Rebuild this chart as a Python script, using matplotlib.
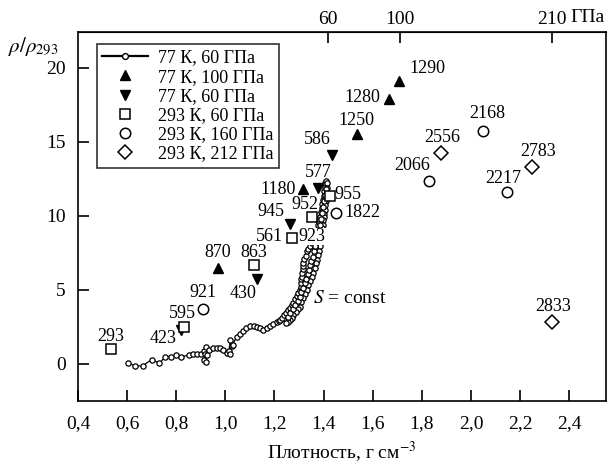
import matplotlib
matplotlib.use("Agg")
import matplotlib.pyplot as plt
from matplotlib.lines import Line2D

plt.rcParams['font.family'] = ['Liberation Serif', 'DejaVu Serif']
plt.rcParams['mathtext.fontset'] = 'stix'

# ---- data ----
# 77 K, 60 GPa continuous curve (density, rho/rho293), read along the band
curve_pts = [
    # lower part
    (0.602, 0.09), (0.632, -0.13), (0.663, -0.13), (0.70, 0.30), (0.731, 0.05), (0.754, 0.45),
    (0.777, 0.50), (0.80, 0.60), (0.82, 0.47), (0.85, 0.60), (0.87, 0.65), (0.883, 0.68),
    (0.90, 0.70), (0.915, 0.90), (0.921, 1.17), (0.918, 0.70), (0.915, 0.30), (0.921, 0.16),
    (0.925, 0.60), (0.935, 0.95), (0.95, 1.07), (0.965, 1.05), (0.978, 1.05), (0.99, 0.95),
    (1.005, 0.72), (1.015, 0.90), (1.02, 1.60), (1.025, 1.20), (1.02, 0.70), (1.03, 1.30),
    (1.046, 1.85), (1.06, 2.00), (1.073, 2.20), (1.085, 2.40), (1.10, 2.57), (1.115, 2.55),
    (1.128, 2.50), (1.14, 2.40), (1.155, 2.30), (1.17, 2.45), (1.182, 2.57), (1.195, 2.70),
    # left strand up
    (1.21, 2.86), (1.217, 2.92), (1.223, 2.97), (1.232, 3.12), (1.24, 3.28), (1.248, 3.45),
    (1.256, 3.62), (1.263, 3.80), (1.27, 3.97), (1.277, 4.12), (1.284, 4.35), (1.29, 4.58),
    (1.297, 4.80), (1.304, 5.00), (1.306, 5.20), (1.308, 5.45), (1.31, 5.70), (1.311, 5.90),
    (1.313, 6.15), (1.315, 6.40), (1.317, 6.62), (1.318, 6.82), (1.322, 7.05), (1.327, 7.30),
    (1.332, 7.59), (1.338, 7.78), (1.345, 7.98), (1.352, 8.18), (1.358, 8.45), (1.363, 8.72),
    (1.368, 8.90), (1.372, 9.05), (1.376, 9.35), (1.38, 9.60), (1.383, 9.80), (1.386, 9.95),
    (1.389, 10.25), (1.392, 10.55), (1.395, 10.80), (1.399, 11.08), (1.401, 11.35),
    (1.403, 11.65), (1.405, 11.95), (1.406, 12.23), (1.41, 12.35), (1.413, 12.2),
    # right strand down
    (1.414, 11.9), (1.412, 11.6), (1.41, 11.3), (1.408, 11.0), (1.406, 10.7), (1.404, 10.4),
    (1.402, 10.15), (1.40, 9.95), (1.398, 9.70), (1.396, 9.40), (1.394, 9.15), (1.392, 8.85),
    (1.39, 8.55), (1.388, 8.25), (1.386, 7.93), (1.382, 7.65), (1.378, 7.35), (1.372, 7.03),
    (1.368, 6.80), (1.364, 6.50), (1.358, 6.15), (1.352, 5.90), (1.345, 5.60), (1.338, 5.30),
    (1.333, 5.00), (1.326, 4.75), (1.318, 4.45), (1.31, 4.15), (1.304, 3.87), (1.295, 3.70),
    (1.286, 3.50), (1.277, 3.30), (1.27, 3.12), (1.264, 2.97), (1.255, 2.85), (1.245, 2.75),
    # middle strand up
    (1.255, 3.20), (1.265, 3.45), (1.275, 3.70), (1.285, 3.95), (1.295, 4.25), (1.303, 4.55),
    (1.31, 4.85), (1.318, 5.15), (1.325, 5.45), (1.33, 5.75), (1.335, 6.05), (1.34, 6.35),
    (1.345, 6.65), (1.35, 6.95), (1.355, 7.25), (1.36, 7.60), (1.365, 7.95), (1.37, 8.30),
    (1.375, 8.65), (1.38, 9.00), (1.385, 9.40), (1.39, 9.80), (1.394, 10.2), (1.398, 10.6),
    (1.402, 11.0), (1.405, 11.4), (1.408, 11.8),
]
curve_x = [p[0] for p in curve_pts]
curve_y = [p[1] for p in curve_pts]

up77_x = [0.97, 1.315, 1.535, 1.667, 1.708]
up77_y = [6.5, 11.8, 15.5, 17.9, 19.1]
up77_lab = ['870', '1180', '1250', '1280', '1290']

dn77_x = [0.82, 1.13, 1.264, 1.378, 1.435]
dn77_y = [2.3, 5.7, 9.46, 11.9, 14.1]
dn77_lab = ['423', '430', '945', '577', '586']

sq293_x = [0.534, 0.832, 1.117, 1.27, 1.353, 1.426]
sq293_y = [1.01, 2.5, 6.7, 8.5, 9.9, 11.35]
sq293_lab = ['293', '595', '863', '561', '952', '955']

ci293_x = [0.909, 1.45, 1.83, 2.048, 2.147]
ci293_y = [3.7, 10.2, 12.35, 15.7, 11.6]
ci293_lab = ['921', '1822', '2066', '2168', '2217']

di293_x = [1.877, 2.25, 2.33]
di293_y = [14.25, 13.3, 2.86]
di293_lab = ['2556', '2783', '2833']

# extra label in the dense cluster
extra_lab = '923'
extra_x, extra_y = 1.37, 8.6

xticks = [0.4, 0.6, 0.8, 1.0, 1.2, 1.4, 1.6, 1.8, 2.0, 2.2, 2.4]
xtick_labels = ['0,4', '0,6', '0,8', '1,0', '1,2', '1,4', '1,6', '1,8', '2,0', '2,2', '2,4']
yticks = [0, 5, 10, 15, 20]
top_ticks = [1.417, 1.712, 2.33]
top_labels = ['60', '100', '210']

legend_labels = ['77 К, 60 ГПа', '77 К, 100 ГПа', '77 К, 60 ГПа',
                 '293 К, 60 ГПа', '293 К, 160 ГПа', '293 К, 212 ГПа']

# label offsets (points) – styling
up_off = [(0, 11), (-18, 0), (0, 10), (-19, 1), (20, 9)]
dn_off = [(-13, -6), (-10, -10), (-14, 9), (0, 11), (-11, 11)]
sq_off = [(0, 9), (-1, 10), (0, 9), (-16, 1), (-5, 9), (13, 1)]
ci_off = [(0, 12), (19, 0), (-12, 11), (3, 13), (-3, 10)]
di_off = [(1, 11), (4, 11), (1, 11)]

fs = 13
tfs = 14
fig = plt.figure(figsize=(6.11, 4.67), dpi=100)
ax = fig.add_axes([0.1277, 0.1413, 0.8641, 0.7902])

ax.plot(curve_x, curve_y, '-', color='black', lw=0.9, marker='o', ms=3.8,
        mfc='white', mec='black', mew=0.9, zorder=3)

ms = 7.5
ax.plot(up77_x, up77_y, '^', color='black', ms=ms, ls='none', zorder=4)
ax.plot(dn77_x, dn77_y, 'v', color='black', ms=ms, ls='none', zorder=4)
ax.plot(sq293_x, sq293_y, 's', mfc='white', mec='black', mew=1.1, ms=7, ls='none', zorder=4)
ax.plot(ci293_x, ci293_y, 'o', mfc='white', mec='black', mew=1.1, ms=7.5, ls='none', zorder=4)
ax.plot(di293_x, di293_y, 'D', mfc='white', mec='black', mew=1.1, ms=7, ls='none', zorder=4)

for xs, ys, labs, offs in [(up77_x, up77_y, up77_lab, up_off),
                           (dn77_x, dn77_y, dn77_lab, dn_off),
                           (sq293_x, sq293_y, sq293_lab, sq_off),
                           (ci293_x, ci293_y, ci293_lab, ci_off),
                           (di293_x, di293_y, di293_lab, di_off)]:
    for x, y, l, o in zip(xs, ys, labs, offs):
        ax.annotate(l, (x, y), xytext=o, textcoords='offset points',
                    ha='center', va='center', fontsize=fs, zorder=5)

ax.annotate(extra_lab, (extra_x, extra_y), xytext=(-3, 0), textcoords='offset points',
            ha='center', va='center', fontsize=fs, zorder=6,
            bbox=dict(fc='white', ec='none', pad=0))

ax.text(1.356, 4.4, r'$S$ = const', fontsize=fs + 1, ha='left', va='center')

ax.set_xlim(0.4, 2.55)
ax.set_ylim(-2.5, 22.4)
ax.set_xticks(xticks)
ax.set_xticklabels(xtick_labels, fontsize=tfs)
ax.set_yticks(yticks)
ax.set_yticklabels([str(v) for v in yticks], fontsize=tfs)
ax.tick_params(direction='in', length=8, width=1.2, pad=10)
ax.tick_params(axis='y', pad=9)
for s in ax.spines.values():
    s.set_linewidth(1.2)

top = ax.secondary_xaxis('top')
top.set_xticks(top_ticks)
top.set_xticklabels(top_labels, fontsize=tfs)
top.tick_params(direction='in', length=8, width=1.2, pad=3)
ax.annotate('ГПа', xy=(top_ticks[-1], 1), xycoords=('data', 'axes fraction'),
            xytext=(13, 10.5), textcoords='offset points', ha='left', va='center', fontsize=tfs)

ax.set_xlabel('Плотность, г см$^{-3}$', fontsize=tfs, labelpad=5)
fig.text(0.013, 0.90, r'$\rho/\rho_{293}$', fontsize=15, ha='left', va='center')

handles = [
    Line2D([], [], color='black', lw=1.6, marker='o', ms=4.2, mfc='white', mec='black'),
    Line2D([], [], ls='none', marker='^', color='black', ms=ms),
    Line2D([], [], ls='none', marker='v', color='black', ms=ms),
    Line2D([], [], ls='none', marker='s', mfc='white', mec='black', mew=1.1, ms=7),
    Line2D([], [], ls='none', marker='o', mfc='white', mec='black', mew=1.1, ms=7.5),
    Line2D([], [], ls='none', marker='D', mfc='white', mec='black', mew=1.1, ms=7),
]
leg = ax.legend(handles, legend_labels, loc='upper left', bbox_to_anchor=(0.036, 0.967),
                fontsize=fs, frameon=True, fancybox=False, edgecolor='black',
                handlelength=2.5, labelspacing=0.12, borderpad=0.3, handletextpad=0.6,
                borderaxespad=0)
leg.get_frame().set_linewidth(1.2)

fig.savefig('out.png', dpi=100)
